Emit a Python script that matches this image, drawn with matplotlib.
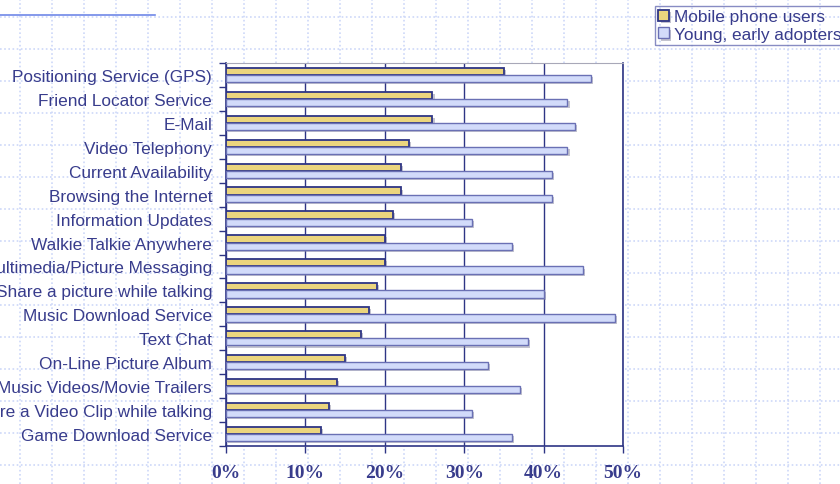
import numpy as np
import matplotlib.pyplot as plt
from matplotlib import patheffects as pe

services = ['Positioning Service (GPS)', 'Friend Locator Service', 'E-Mail',
            'Video Telephony', 'Current Availability', 'Browsing the Internet',
            'Information Updates', 'Walkie Talkie Anywhere',
            'Multimedia/Picture Messaging', 'Share a picture while talking',
            'Music Download Service', 'Text Chat', 'On-Line Picture Album',
            'Music Videos/Movie Trailers', 'Share a Video Clip while talking',
            'Game Download Service']
mobile_users = [35, 26, 26, 23, 22, 22, 21, 20, 20, 19, 18, 17, 15, 14, 13, 12]
young_adopters = [46, 43, 44, 43, 41, 41, 31, 36, 45, 40, 49, 38, 33, 37, 31, 36]
xticks = [0, 10, 20, 30, 40, 50]

txt = '#383c8c'
dark = '#2e3585'

W, H = 840, 485
fig = plt.figure(figsize=(W / 100, H / 100), dpi=100)

# slide background: dotted grid
bg = fig.add_axes([0, 0, 1, 1])
bg.set_xlim(0, W)
bg.set_ylim(H, 0)
bg.axis('off')
for gx in np.arange(20, W, 32):
    bg.axvline(gx, color='#cdd8f8', lw=1.2, ls=(0, (1, 1.5)))
for gy in np.arange(18, H, 32):
    bg.axhline(gy, color='#cdd8f8', lw=1.2, ls=(0, (1, 1.5)))
bg.plot([0, 155], [16, 16], color='#7088e8', lw=1.2)

ax = fig.add_axes([226 / W, (H - 447) / H, 397 / W, 383 / H])
ax.set_facecolor('white')
n = len(services)
y = np.arange(n)
shadow = [pe.SimplePatchShadow(offset=(1.5, -1.5), shadow_rgbFace='#8888a0', alpha=0.5), pe.Normal()]
b1 = ax.barh(y - 0.15, mobile_users, height=0.3, color='#ebd57e', edgecolor=dark, lw=1.3,
             label='Mobile phone users', zorder=3)
b2 = ax.barh(y + 0.15, young_adopters, height=0.3, color='#d2dbfa', edgecolor='#6a70b4', lw=1.0,
             label='Young, early adopters', zorder=3)
for b in list(b1) + list(b2):
    b.set_path_effects(shadow)

ax.set_xlim(0, 50)
ax.set_ylim(n - 0.5, -0.5)
ax.set_xticks(xticks)
ax.set_xticklabels([f'{v}%' for v in xticks], fontfamily='Liberation Serif', fontweight='bold',
                   fontsize=14, color=txt)
ax.set_yticks(y)
ax.set_yticklabels(services, fontfamily='Liberation Sans', fontsize=12.4, color=txt)
ax.set_yticks(np.arange(n + 1) - 0.5, minor=True)
ax.tick_params(axis='y', which='major', length=0, pad=10)
ax.tick_params(axis='y', which='minor', length=5, color=dark, width=1)
ax.tick_params(axis='x', length=5, color=dark, width=1, pad=8)
ax.xaxis.grid(True, color=dark, lw=1)
ax.set_axisbelow(True)
for s in ['left', 'bottom', 'right']:
    ax.spines[s].set_color(dark)
    ax.spines[s].set_linewidth(1.2)
ax.spines['top'].set_color('#a8a8b8')

leg = fig.legend(handles=[b1, b2], loc='upper left', bbox_to_anchor=(655 / W, 1 - 7 / H),
                 prop={'family': 'Liberation Sans', 'size': 12.4}, labelcolor=txt,
                 handlelength=0.6, handleheight=0.6, handletextpad=0.3,
                 borderpad=0.2, labelspacing=0.15, fancybox=False, borderaxespad=0)
leg.get_frame().set_facecolor('none')
leg.get_frame().set_edgecolor('#6a70b4')

fig.savefig('out.png', dpi=100)
